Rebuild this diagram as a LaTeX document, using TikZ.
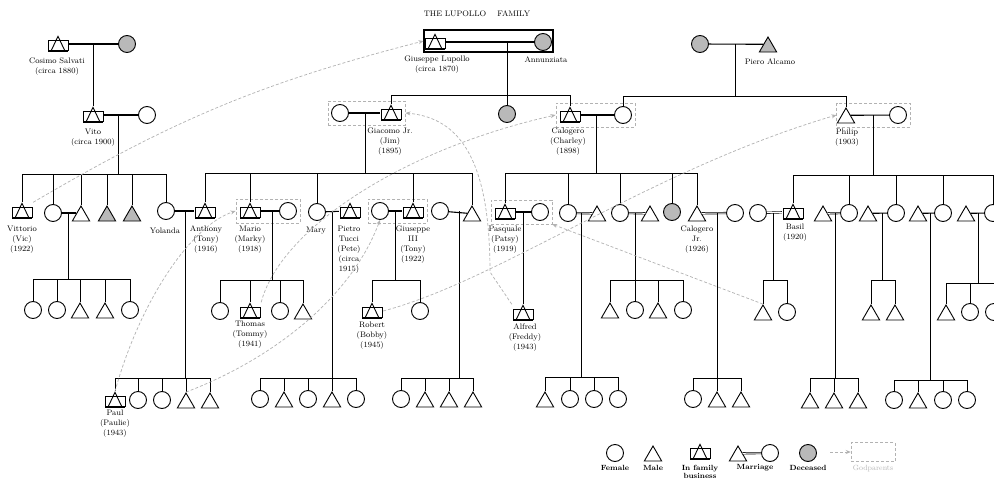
\documentclass[tikz,border=0pt]{standalone}
\usetikzlibrary{shapes.geometric,fit,arrows.meta}
\newcommand\ppbb{path picture bounding box}
\tikzset{
 fem/.style={circle, draw, line width=0.9pt, minimum size=17pt, inner sep=0pt},
 male/.style={regular polygon, regular polygon sides=3, draw, line width=0.9pt, minimum size=20pt, inner sep=0pt, yshift=-3pt},
 deadf/.style={fem, fill=gray!55},
 deadm/.style={male, fill=gray!55},
 crown/.style={minimum width=22pt, minimum height=17pt, inner sep=0pt, path picture={
   \draw[line width=0.9pt] ([shift={(1pt,2.5pt)}]\ppbb.south west) rectangle ([shift={(-1pt,-5pt)}]\ppbb.north east);
   \draw[line width=0.9pt] ([shift={(4.5pt,2.5pt)}]\ppbb.south west) -- ([yshift=-0.8pt]\ppbb.north) -- ([shift={(-4.5pt,2.5pt)}]\ppbb.south east);
   \draw[line width=0.9pt] ([shift={(1pt,0.8pt)}]\ppbb.south west) -- ([shift={(-1pt,0.8pt)}]\ppbb.south east);}},
 lbl/.style={font=\fontsize{8}{10}\selectfont, align=center, inner sep=0pt},
 leg/.style={font=\fontsize{7.5}{8.5}\selectfont\bfseries, align=center, inner sep=0pt},
 fambox/.style={draw=gray!60, densely dashed, line width=0.5pt, inner sep=3pt},
 god/.style={draw=gray!60, dash pattern=on 3pt off 2pt, line width=0.7pt, -{Stealth[length=5pt,width=4pt]}},
 ln/.style={line width=1pt},
 wed/.style={line width=1.1pt},
 dwed/.style={double, double distance=1pt, line width=0.6pt}
}
\begin{document}
\begin{tikzpicture}[x=1pt,y=-1pt]
\fill[white] (0,0) rectangle (994,482);
\useasboundingbox (0,0) rectangle (994,482);

\node[font=\fontsize{8}{9}\selectfont] (title) at (477,14) {THE LUPOLLO\hspace{1.4em}FAMILY};

% ---------- generation 0
\node[crown] (cosimo) at (58,44) {};
\node[deadf] (cosimow) at (127,44) {};
\draw[wed] (cosimo) -- (cosimow);
\node[lbl] (lcosimo) at (57,67) {Cosimo Salvati\\(circa 1880)};
\coordinate (mcosimo) at (93,44);

\node[crown] (vito) at (93,115) {};
\node[fem] (vitow) at (147,115) {};
\draw[wed] (vito) -- (vitow);
\draw[ln] (mcosimo) -- (vito.north);
\node[lbl] (lvito) at (93,138) {Vito\\(circa 1900)};
\coordinate (mvito) at (118,115);
\coordinate (bvito) at (118,174);

\node[crown] (giuseppe) at (435,42) {};
\node[deadf] (annunziata) at (543,42) {};
\draw[wed] (giuseppe) -- (annunziata);
\node[draw, line width=1.1pt, minimum width=129pt, minimum height=22pt, inner sep=0pt] (lupbox) at (488.5,41) {};
\node[lbl] (lgiuseppe) at (437,65) {Giuseppe Lupollo\\(circa 1870)};
\node[lbl] (lannunziata) at (546,60) {Annunziata};
\coordinate (mlup) at (507,42);
\coordinate (blup) at (507,95);

\node[deadf] (pierow) at (700,44) {};
\node[deadm] (piero) at (768,44) {};
\draw[wed] (pierow) -- (piero.side 1);
\node[lbl] (lpiero) at (770,62) {Piero Alcamo};
\coordinate (mpiero) at (735,44);
\coordinate (bpiero) at (735,96);

% ---------- generation 1
\node[fem] (giacw) at (340,113) {};
\node[crown] (giacomo) at (391,113) {};
\draw[wed] (giacw) -- (giacomo);
\node[fambox, fit=(giacw)(giacomo)] (giacbox) {};
\node[lbl] (lgiacomo) at (390,142) {Giacomo Jr.\\(Jim)\\(1895)};
\coordinate (mgiac) at (365,113);
\coordinate (bgiac) at (365,173);

\node[deadf] (lupd) at (507,114) {};

\node[crown] (calogero) at (570,115) {};
\node[fem] (calw) at (623,115) {};
\draw[wed] (calogero) -- (calw);
\node[fambox, fit=(calogero)(calw)] (calbox) {};
\node[lbl] (lcalogero) at (568,142) {Calogero\\(Charley)\\(1898)};
\coordinate (mcal) at (596,115);
\coordinate (bcal) at (596,173);

\node[male] (philip) at (846,115) {};
\node[fem] (philw) at (898,115) {};
\draw[wed] (philip.side 3) -- (philw);
\node[fambox, fit=(philip)(philw)] (philbox) {};
\node[lbl] (lphilip) at (847,138) {Philip\\(1903)};
\coordinate (mphil) at (873,115);
\coordinate (bphil) at (873,175);

\draw[ln] (mlup) -- (blup);
\foreach \nm in {giacomo,lupd,calogero} \draw[ln] (blup) -| (\nm.north);
\draw[ln] (mpiero) -- (bpiero);
\foreach \nm in {calw,philip} \draw[ln] (bpiero) -| (\nm.north);

% ---------- generation 2 : Vito
\node[crown] (vittorio) at (22,211) {};
\node[fem] (vc2) at (53,213) {};
\node[male] (vc3) at (81,213) {};
\node[deadm] (vc4) at (107,213) {};
\node[deadm] (vc5) at (132,213) {};
\node[fem] (yolanda) at (166,211) {};
\draw[ln] (mvito) -- (bvito);
\foreach \nm in {vittorio,vc2,vc3,vc4,vc5,yolanda} \draw[ln] (bvito) -| (\nm.north);
\node[lbl] (lvittorio) at (22,240) {Vittorio\\(Vic)\\(1922)};
\node[lbl] (lyolanda) at (165,231) {Yolanda};
\coordinate (vc2e) at (76,213);
\draw[wed] (vc2) -- (vc2e);
\coordinate (mvc2) at (68,213);
\coordinate (bvc2) at (68,279);
\draw[ln] (mvc2) -- (bvc2);
\foreach \nm/\x/\s in {gv1/33/fem, gv2/57/fem, gv3/80/male, gv4/105/male, gv5/130/fem}
  {\node[\s] (\nm) at (\x,310) {}; \draw[ln] (bvc2) -| (\nm.north);}

% Giacomo's children
\node[crown] (anthony) at (205,211) {};
\draw[wed] (yolanda) -- (anthony);
\node[lbl] (lanthony) at (206,240) {Anthony\\(Tony)\\(1916)};
\coordinate (mya) at (185,211);
\coordinate (bya) at (185,378);
\draw[ln] (mya) -- (bya);
\node[crown] (paul) at (115,400) {};
\draw[ln] (bya) -| (paul.north);
\foreach \nm/\x/\s in {ya2/138/fem, ya3/162/fem, ya4/186/male, ya5/210/male}
  {\node[\s] (\nm) at (\x,400) {}; \draw[ln] (bya) -| (\nm.north);}
\node[lbl] (lpaul) at (115,424) {Paul\\(Paulie)\\(1943)};

\node[crown] (mario) at (250,211) {};
\node[fem] (mariow) at (288,211) {};
\draw[wed] (mario) -- (mariow);
\node[fambox, fit=(mario)(mariow)] (mariobox) {};
\node[lbl] (lmario) at (250,240) {Mario\\(Marky)\\(1918)};
\coordinate (mmario) at (272,211);
\coordinate (bmario) at (272,280);
\draw[ln] (mmario) -- (bmario);
\node[crown] (thomas) at (250,311) {};
\draw[ln] (bmario) -| (thomas.north);
\foreach \nm/\x/\s in {mc1/220/fem, mc3/280/fem, mc4/303/male}
  {\node[\s] (\nm) at (\x,311) {}; \draw[ln] (bmario) -| (\nm.north);}
\node[lbl] (lthomas) at (250,335) {Thomas\\(Tommy)\\(1941)};

\node[fem] (mary) at (317,212) {};
\node[crown] (pietro) at (350,211) {};
\draw[wed] (mary) -- (pietro);
\node[lbl] (lmary) at (316,231) {Mary};
\node[lbl] (lpietro) at (349,250) {Pietro\\Tucci\\(Pete)\\(circa\\1915)};
\coordinate (mmary) at (332,211);
\coordinate (bmary) at (332,378);
\draw[ln] (mmary) -- (bmary);
\foreach \nm/\x/\s in {ty1/260/fem, ty2/284/male, ty3/308/fem, ty4/332/male, ty5/356/fem}
  {\node[\s] (\nm) at (\x,399) {}; \draw[ln] (bmary) -| (\nm.north);}

\node[fem] (g3w) at (380,211) {};
\node[crown] (giuseppe3) at (413,211) {};
\draw[wed] (g3w) -- (giuseppe3);
\node[fambox, fit=(g3w)(giuseppe3)] (g3box) {};
\node[lbl] (lg3) at (413,245) {Giuseppe\\III\\(Tony)\\(1922)};
\coordinate (mg3) at (395,211);
\coordinate (bg3) at (395,280);
\draw[ln] (mg3) -- (bg3);
\node[crown] (robert) at (372,311) {};
\node[fem] (g3c2) at (420,311) {};
\foreach \nm in {robert,g3c2} \draw[ln] (bg3) -| (\nm.north);
\node[lbl] (lrobert) at (372,336) {Robert\\(Bobby)\\(1945)};

\node[fem] (gc5w) at (440,211) {};
\node[male] (gc5) at (472,213) {};
\draw[wed] (gc5w) -- (gc5.side 1);
\coordinate (mgc5) at (459,211);
\coordinate (bgc5) at (459,378);
\draw[ln] (mgc5) -- (bgc5);
\foreach \nm/\x/\s in {gk1/401/fem, gk2/425/male, gk3/449/male, gk4/473/male}
  {\node[\s] (\nm) at (\x,399) {}; \draw[ln] (bgc5) -| (\nm.north);}

\draw[ln] (mgiac) -- (bgiac);
\foreach \nm in {anthony,mario,mary,giuseppe3,gc5} \draw[ln] (bgiac) -| (\nm.north);

% Calogero's children
\node[crown] (pasquale) at (505,212) {};
\node[fem] (pasw) at (540,212) {};
\draw[wed] (pasquale) -- (pasw);
\node[fambox, fit=(pasquale)(pasw)] (pasbox) {};
\node[lbl] (lpasquale) at (505,240) {Pasquale\\(Patsy)\\(1919)};
\coordinate (mpas) at (523,212);
\node[crown] (alfred) at (523,313) {};
\draw[ln] (mpas) -- (alfred.north);
\node[lbl] (lalfred) at (525,338) {Alfred\\(Freddy)\\(1943)};

\node[fem] (cc2) at (568,213) {};
\node[male] (cc2h) at (597,213) {};
\draw[dwed] (cc2) -- (cc2h.side 1);
\coordinate (mcc2) at (581,213);
\coordinate (bcc2) at (581,377);
\draw[ln] (mcc2) -- (bcc2);
\foreach \nm/\x/\s in {ck1/545/male, ck2/570/fem, ck3/594/fem, ck4/618/fem}
  {\node[\s] (\nm) at (\x,399) {}; \draw[ln] (bcc2) -| (\nm.north);}

\node[fem] (cc3) at (620,213) {};
\node[male] (cc3h) at (650,213) {};
\draw[dwed] (cc3) -- (cc3h.side 1);
\coordinate (mcc3) at (635,213);
\coordinate (bcc3) at (635,280);
\draw[ln] (mcc3) -- (bcc3);
\foreach \nm/\x/\s in {cm1/610/male, cm2/635/fem, cm3/658/male, cm4/683/fem}
  {\node[\s] (\nm) at (\x,310) {}; \draw[ln] (bcc3) -| (\nm.north);}

\node[deadf] (cc4) at (672,212) {};

\node[male] (calj) at (697,213) {};
\node[fem] (caljw) at (735,213) {};
\draw[dwed] (calj.side 3) -- (caljw);
\node[lbl] (lcalj) at (697,240) {Calogero\\Jr.\\(1926)};
\coordinate (mcalj) at (717,213);
\coordinate (bcalj) at (717,378);
\draw[ln] (mcalj) -- (bcalj);
\foreach \nm/\x/\s in {cj1/693/fem, cj2/717/male, cj3/741/male}
  {\node[\s] (\nm) at (\x,399) {}; \draw[ln] (bcalj) -| (\nm.north);}

\draw[ln] (mcal) -- (bcal);
\foreach \nm in {pasquale,cc2,cc3,cc4,calj} \draw[ln] (bcal) -| (\nm.north);

% Philip's children
\node[crown] (basil) at (793,212) {};
\node[fem] (basilw) at (758,213) {};
\draw[dwed] (basilw) -- (basil);
\node[lbl] (lbasil) at (795,233) {Basil\\(1920)};
\coordinate (mbas) at (773,213);
\coordinate (bbas) at (773,280);
\draw[ln] (mbas) -- (bbas);
\foreach \nm/\x/\s in {bc1/763/male, bc2/787/fem}
  {\node[\s] (\nm) at (\x,312) {}; \draw[ln] (bbas) -| (\nm.north);}

\node[fem] (pc2) at (849,213) {};
\node[male] (pc2h) at (823,213) {};
\draw[dwed] (pc2h.side 3) -- (pc2);
\coordinate (mpc2) at (835,213);
\coordinate (bpc2) at (835,378);
\draw[ln] (mpc2) -- (bpc2);
\foreach \nm/\x/\s in {pa1/810/male, pa2/834/male, pa3/858/male}
  {\node[\s] (\nm) at (\x,400) {}; \draw[ln] (bpc2) -| (\nm.north);}

\node[fem] (pc3) at (896,213) {};
\node[male] (pc3h) at (868,213) {};
\draw[wed] (pc3h.side 3) -- (pc3);
\coordinate (mpc3) at (882,213);
\coordinate (bpc3) at (882,280);
\draw[ln] (mpc3) -- (bpc3);
\foreach \nm/\x/\s in {pb1/871/male, pb2/895/male}
  {\node[\s] (\nm) at (\x,312) {}; \draw[ln] (bpc3) -| (\nm.north);}

\node[fem] (pc4) at (943,213) {};
\node[male] (pc4h) at (918,213) {};
\draw[wed] (pc4h.side 3) -- (pc4);
\coordinate (mpc4) at (930,213);
\coordinate (bpc4) at (930,380);
\draw[ln] (mpc4) -- (bpc4);
\foreach \nm/\x/\s in {pd1/894/fem, pd2/918/male, pd3/943/fem, pd4/967/fem}
  {\node[\s] (\nm) at (\x,400) {}; \draw[ln] (bpc4) -| (\nm.north);}

\node[fem] (pc5) at (993,213) {};
\node[male] (pc5h) at (966,213) {};
\draw[wed] (pc5h.side 3) -- (pc5);
\coordinate (mpc5) at (978,213);
\coordinate (bpc5) at (978,283);
\draw[ln] (mpc5) -- (bpc5);
\foreach \nm/\x/\s in {pe1/946/male, pe2/970/fem, pe3/994/fem}
  {\node[\s] (\nm) at (\x,312) {}; \draw[ln] (bpc5) -| (\nm.north);}

\draw[ln] (mphil) -- (bphil);
\foreach \nm in {basil,pc2,pc3,pc4,pc5} \draw[ln] (bphil) -| (\nm.north);

% ---------- godparent links
\draw[god] (vittorio.north east) to[bend left=8] (lupbox.west);
\draw[god] (paul.north) .. controls +(25,-90) and +(-45,15) .. (mariobox.west);
\draw[god] (thomas.north east) .. controls (280,230) and (400,150) .. (calbox.west);
\draw[god] (ya4.corner 1) .. controls (270,360) and (350,300) .. (g3w.south);
\draw[god] (robert.east) .. controls (500,280) and (650,170) .. (philbox.west);
\coordinate (galf) at (490,272);
\draw[god] (alfred.north west) -- (galf) .. controls (490,160) and (460,118) .. (giacbox.east);
\draw[god] (bc1.corner 1) -- (pasbox.south east);

% ---------- legend
\node[fem] (lgf) at (615,453) {};
\node[leg] (lgfl) at (615,468) {Female};
\node[male] (lgm) at (653,453) {};
\node[leg] (lgml) at (653,468) {Male};
\node[crown] (lgb) at (700,452) {};
\node[leg] (lgbl) at (700,472) {In family\\business};
\node[male] (lgmt) at (738,453) {};
\node[fem] (lgmc) at (770,453) {};
\draw[dwed] (lgmt.side 3) -- (lgmc);
\node[leg] (lgwl) at (755,468) {Marriage};
\node[deadf] (lgd) at (808,453) {};
\node[leg] (lgdl) at (808,468) {Deceased};
\coordinate (lga) at (830,452);
\node[fambox, minimum width=44pt, minimum height=19pt, inner sep=0pt] (lgbox) at (873,452) {};
\draw[god] (lga) -- (lgbox.west);
\node[leg, text=gray!55, font=\fontsize{7.5}{8.5}\selectfont] (lggl) at (873,469) {Godparents};
\end{tikzpicture}
\end{document}
